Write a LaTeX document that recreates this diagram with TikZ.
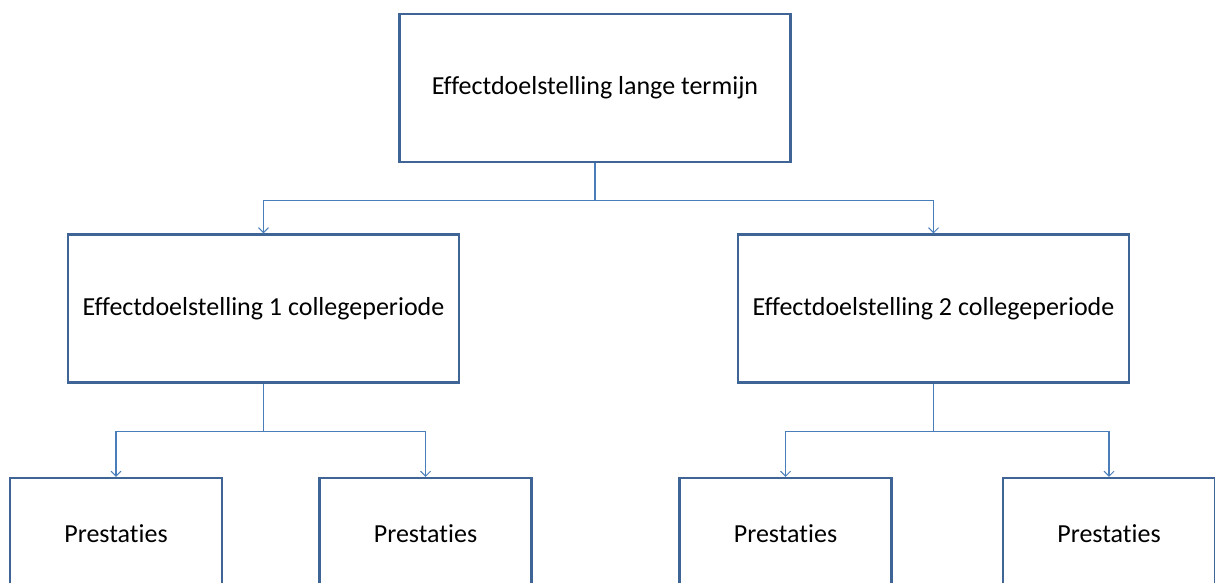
\documentclass[tikz,border=0pt]{standalone}
\usepackage{fontspec}
\setmainfont{Carlito}[Ligatures={NoCommon}]
\usetikzlibrary{arrows.meta}
\definecolor{boxline}{HTML}{3F6496}
\definecolor{connline}{HTML}{4A7EBB}
\tikzset{
  goalbox/.style={draw=boxline, line width=2.2pt, fill=white, inner sep=0pt,
    minimum width=391pt, minimum height=148pt, font=\fontsize{26}{30}\selectfont},
  workbox/.style={draw=boxline, line width=2.2pt, fill=white, inner sep=0pt,
    minimum width=212pt, minimum height=112pt, font=\fontsize{26}{30}\selectfont},
  conn/.style={draw=connline, line width=1.2pt,
    -{Straight Barb[length=5pt,width=10pt,line width=1pt]}}
}
\begin{document}
\begin{tikzpicture}[x=1pt,y=-1pt]
  \useasboundingbox (0,0) rectangle (1215,582);
  \clip (0,0) rectangle (1215,582);
  \fill[white] (0,0) rectangle (1215,582);

  % goal hierarchy
  \node[goalbox] (top) at (595,88) {\raisebox{-2pt}{Effectdoelstelling lange termijn}};
  \node[goalbox] (ml) at (263.5,308.5) {\raisebox{-2pt}{Effectdoelstelling 1 collegeperiode}};
  \node[goalbox] (mr) at (933.5,308.5) {\raisebox{-2pt}{Effectdoelstelling 2 collegeperiode}};

  % output boxes
  \node[workbox] (p1) at (116,534) {Prestaties};
  \node[workbox] (p2) at (425.5,534) {Prestaties};
  \node[workbox] (p3) at (785.5,534) {Prestaties};
  \node[workbox] (p4) at (1109,534) {Prestaties};

  % elbow connectors
  \draw[conn] (top.south) -- ++(0,37) -| (ml.north);
  \draw[conn] (top.south) -- ++(0,37) -| (mr.north);
  \draw[conn] (ml.south) -- ++(0,48) -| (p1.north);
  \draw[conn] (ml.south) -- ++(0,48) -| (p2.north);
  \draw[conn] (mr.south) -- ++(0,48) -| (p3.north);
  \draw[conn] (mr.south) -- ++(0,48) -| (p4.north);
\end{tikzpicture}
\end{document}
